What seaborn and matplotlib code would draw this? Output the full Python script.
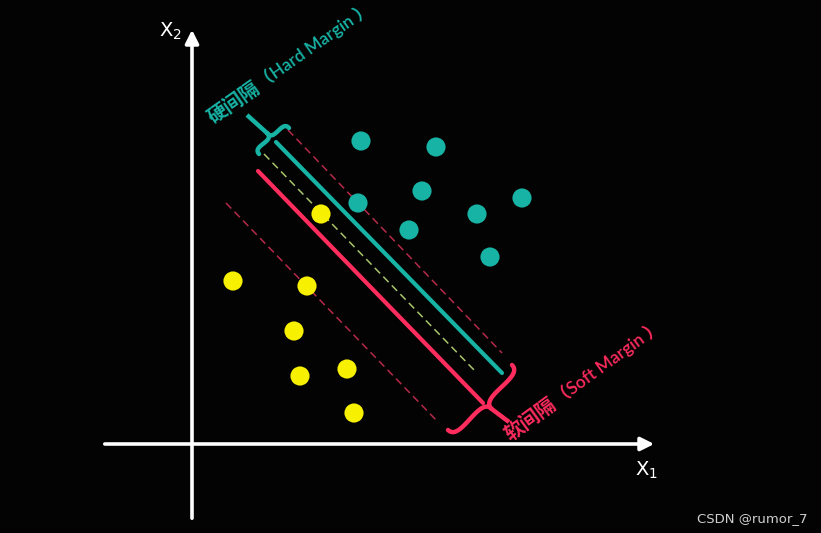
import numpy as np
import pandas as pd
import matplotlib
matplotlib.use("Agg")
import matplotlib.pyplot as plt
import seaborn as sns

# everything in pixel units (y grows downward)
teal_x = [361, 436, 422, 358, 477, 522, 409, 490]
teal_y = [141, 147, 191, 203, 214, 198, 230, 257]
yellow_x = [321, 233, 307, 294, 300, 347, 354]
yellow_y = [214, 281, 286, 331, 376, 369, 413]

# margin lines, [start, end]
hard_x = [276, 502]
hard_y = [142, 373]
soft_x = [258, 483]
soft_y = [171, 403]
mid_x = [264, 476]
mid_y = [154, 372]
upper_x = [288, 502]
upper_y = [130, 353]
lower_x = [226, 438]
lower_y = [203, 422]

TEAL = "#17b3a5"
PINK = "#ff2c5e"
YELLOW = "#f7f000"
BG = "#030303"

sns.set_style("dark")
plt.rcParams["font.family"] = ["Noto Sans CJK SC", "DejaVu Sans"]

fig = plt.figure(figsize=(8.21, 5.33), dpi=100, facecolor=BG)
ax = fig.add_axes([0, 0, 1, 1])
ax.set_facecolor(BG)
ax.set_xlim(0, 821)
ax.set_ylim(533, 0)
ax.axis("off")

# axes with arrows
ax.annotate("", xy=(192, 27), xytext=(192, 521),
            arrowprops=dict(arrowstyle="-|>", color="white", lw=2.6, mutation_scale=20))
ax.annotate("", xy=(657, 444), xytext=(102, 444),
            arrowprops=dict(arrowstyle="-|>", color="white", lw=2.6, mutation_scale=20))
ax.text(159, 37, "X$_2$", color="white", fontsize=14, family=["DejaVu Sans"])
ax.text(635, 476, "X$_1$", color="white", fontsize=14, family=["DejaVu Sans"])

# margin lines
lines = pd.DataFrame({
    "x": upper_x + lower_x + mid_x,
    "y": upper_y + lower_y + mid_y,
    "line": ["upper"] * 2 + ["lower"] * 2 + ["mid"] * 2,
})
sns.lineplot(data=lines, x="x", y="y", hue="line", sort=False, estimator=None,
             palette={"upper": "#b52a48", "lower": "#b52a48", "mid": "#a9c46a"},
             lw=1.1, dashes=False, linestyle=(0, (5, 3)), legend=False, ax=ax)
sns.lineplot(x=hard_x, y=hard_y, color=TEAL, lw=3, sort=False, estimator=None, ax=ax)
sns.lineplot(x=soft_x, y=soft_y, color=PINK, lw=3, sort=False, estimator=None, ax=ax)

# points
pts = pd.DataFrame({
    "x": teal_x + yellow_x,
    "y": teal_y + yellow_y,
    "cls": ["teal"] * len(teal_x) + ["yellow"] * len(yellow_x),
})
sns.scatterplot(data=pts, x="x", y="y", hue="cls", palette={"teal": TEAL, "yellow": YELLOW},
                s=190, edgecolor="none", legend=False, ax=ax, zorder=5)


def brace(a, b, tip, h, color, lw):
    a = np.array(a, float)
    b = np.array(b, float)
    tip = np.array(tip, float)
    m = (a + b) / 2
    u = (b - a) / np.linalg.norm(b - a)
    d = tip - m
    v = d - np.dot(d, u) * u
    v = v / np.linalg.norm(v)
    j = m + h * v
    t = np.linspace(0, 1, 40)[:, None]
    for e in (a, b):
        p0, p1, p2, p3 = e, e + h * 1.1 * v, m - 0.1 * h * v, j
        c = (1 - t) ** 3 * p0 + 3 * (1 - t) ** 2 * t * p1 + 3 * (1 - t) * t ** 2 * p2 + t ** 3 * p3
        ax.plot(c[:, 0], c[:, 1], color=color, lw=lw, solid_capstyle="round")
    ax.plot([j[0], tip[0]], [j[1], tip[1]], color=color, lw=lw, solid_capstyle="butt")


brace((259, 154), (289, 128), (247, 115), 10, TEAL, 3.2)
brace((448, 430), (512, 365), (509, 422), 16, PINK, 3.2)

fig.canvas.draw()
renderer = fig.canvas.get_renderer()


def label(x, y, cn, en, color, angle):
    t1 = ax.text(x, y, cn, color=color, fontsize=14, fontweight="bold",
                 family=["Noto Sans CJK SC"], rotation=angle, rotation_mode="anchor",
                 ha="left", va="baseline")
    w, _, _ = renderer.get_text_width_height_descent(cn, t1.get_fontproperties(), ismath=False)
    r = np.deg2rad(angle)
    x2 = x + (w + 1) * np.cos(r)
    y2 = y - (w + 1) * np.sin(r)
    ax.text(x2, y2, en, color=color, fontsize=12.5, fontweight="semibold",
            family=["Lato", "Noto Sans CJK SC"],
            rotation=angle, rotation_mode="anchor", ha="left", va="baseline")


label(213, 124, "硬间隔", "（Hard Margin ）", TEAL, 35)
label(510, 441, "软间隔", "（Soft Margin ）", PINK, 36)

ax.text(697, 522, "CSDN @rumor_7", color="#cfcfcf", fontsize=9.5, family=["DejaVu Sans"])

fig.savefig("out.png", dpi=100, facecolor=BG)
